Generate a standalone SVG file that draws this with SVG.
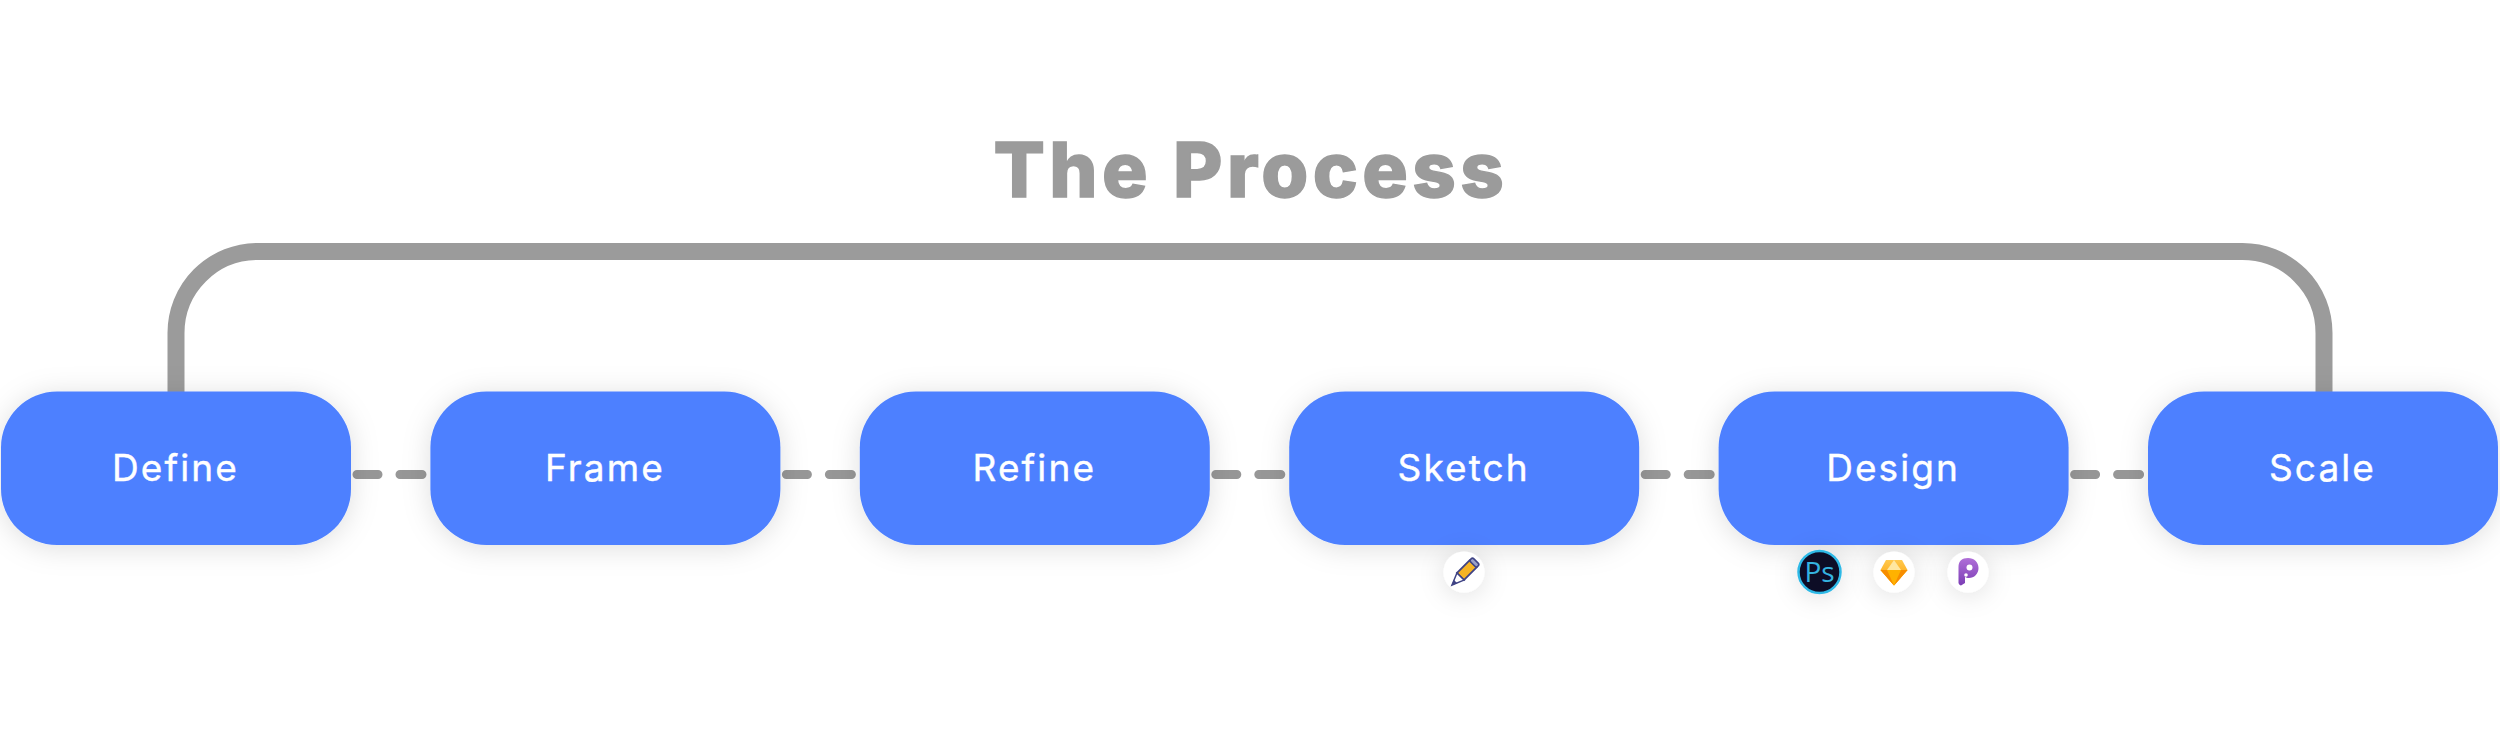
<svg xmlns="http://www.w3.org/2000/svg" width="2500" height="734" viewBox="0 0 2500 734">
<style>
.node{fill:#4d80ff;filter:url(#sh)}
.lbl{font-family:Inter,"Liberation Sans",sans-serif;font-size:37px;font-weight:400;fill:#fff;stroke:#fff;stroke-width:.4px;text-anchor:middle;letter-spacing:2.100px}
.title{font-family:Inter,"Liberation Sans",sans-serif;font-size:76px;font-weight:800;fill:#9b9b9b;stroke:#9b9b9b;stroke-width:1.400px;letter-spacing:4.400px}
.dash{stroke:#979797;stroke-width:9;stroke-linecap:round;fill:none}
.badge{fill:#fff;filter:url(#sh2)}
</style>
<defs>
<filter id="sh" x="-20%" y="-40%" width="140%" height="180%"><feDropShadow dx="0" dy="3" stdDeviation="14" flood-color="#000" flood-opacity=".13"/></filter>
<filter id="sh2" x="-150%" y="-150%" width="400%" height="400%"><feDropShadow dx="0" dy="3" stdDeviation="13" flood-color="#000" flood-opacity=".12"/></filter>
<linearGradient id="gem" x1="0" y1="0" x2="0" y2="1"><stop offset="0" stop-color="#ffc94d"/><stop offset="1" stop-color="#fd9a00"/></linearGradient>
<linearGradient id="pp" x1="0" y1="0" x2="0" y2="1"><stop offset="0" stop-color="#b06fd8"/><stop offset="1" stop-color="#7b3db5"/></linearGradient>
</defs>
<text class="title" x="993.500" y="197">The Process</text>
<g id="connectors">
<path d="M176 400V333A81.500 81.500 0 0 1 257.500 251.500H2242.500A81.500 81.500 0 0 1 2324 333V400" fill="none" stroke="#9b9b9b" stroke-width="17"/>
<path class="dash" d="M357 474.500H378M400 474.500H422"/>
<path class="dash" d="M786.400 474.500H807.400M829.400 474.500H851.400"/>
<path class="dash" d="M1215.800 474.500H1236.800M1258.800 474.500H1280.800"/>
<path class="dash" d="M1645.200 474.500H1666.200M1688.200 474.500H1710.200"/>
<path class="dash" d="M2074.600 474.500H2095.600M2117.600 474.500H2139.600"/>
</g>
<g id="define"><rect class="node" x="1" y="391.500" width="350" height="153.500" rx="56"/><text class="lbl" x="175.500" y="480.500">Define</text></g>
<g id="frame"><rect class="node" x="430.400" y="391.500" width="350" height="153.500" rx="56"/><text class="lbl" x="604.900" y="480.500">Frame</text></g>
<g id="refine"><rect class="node" x="859.800" y="391.500" width="350" height="153.500" rx="56"/><text class="lbl" x="1034.300" y="480.500">Refine</text></g>
<g id="sketch"><rect class="node" x="1289.200" y="391.500" width="350" height="153.500" rx="56"/><text class="lbl" x="1463.700" y="480.500">Sketch</text></g>
<g id="design"><rect class="node" x="1718.600" y="391.500" width="350" height="153.500" rx="56"/><text class="lbl" x="1893.100" y="480.500">Design</text></g>
<g id="scale"><rect class="node" x="2148" y="391.500" width="350" height="153.500" rx="56"/><text class="lbl" x="2322.500" y="480.500">Scale</text></g>
<g id="icon-pencil">
<circle class="badge" cx="1464" cy="572" r="20.500"/>
<g transform="rotate(45 1464 573)">
<rect x="1459" y="560" width="10" height="18" fill="#f5b324" stroke="#3f4385" stroke-width="1.800"/>
<path d="M1459 578H1469L1464 590Z" fill="#fff" stroke="#3f4385" stroke-width="1.500"/>
<path d="M1461.600 585H1466.400L1464 590.500Z" fill="#3f4385"/>
<rect x="1459" y="556" width="10" height="4.500" rx="2" fill="#9aa0c8" stroke="#3f4385" stroke-width="1.600"/>
</g>
</g>
<g id="icon-photoshop">
<circle cx="1819.500" cy="572" r="21" fill="#0e0a26" stroke="#2fb9e6" stroke-width="2.500" filter="url(#sh2)"/>
<text x="1819.500" y="582" font-family="'Open Sans','Liberation Sans',sans-serif" font-size="28" font-weight="400" fill="#35b3e0" text-anchor="middle">Ps</text>
</g>
<g id="icon-sketch">
<circle class="badge" cx="1894" cy="572" r="20.500"/>
<path d="M1886 560H1902L1907.500 570L1894 585.500L1880.500 570Z" fill="url(#gem)"/>
<path d="M1880.500 570H1907.500L1894 585.500Z" fill="#ffb200"/>
<path d="M1880.500 570H1887L1894 585.500Z" fill="#f78d00"/>
<path d="M1907.500 570H1901L1894 585.500Z" fill="#f78d00"/>
<path d="M1887 570L1894 560L1901 570Z" fill="#ffe7a0"/>
</g>
<g id="icon-p">
<circle class="badge" cx="1968" cy="572" r="20.500"/>
<path d="M1958.500 567C1958.500 561 1962 558 1968 558C1974 558 1978.500 562 1978.500 568C1978.500 574 1974 578 1969 578C1967 578 1966 577.500 1965 577V583L1961 585.500C1960 585.500 1959 584.500 1958.500 583Z" fill="url(#pp)"/>
<circle cx="1969.500" cy="567.500" r="3" fill="#fff"/>
<circle cx="1966" cy="575" r="1.800" fill="#fff"/>
</g>
</svg>
